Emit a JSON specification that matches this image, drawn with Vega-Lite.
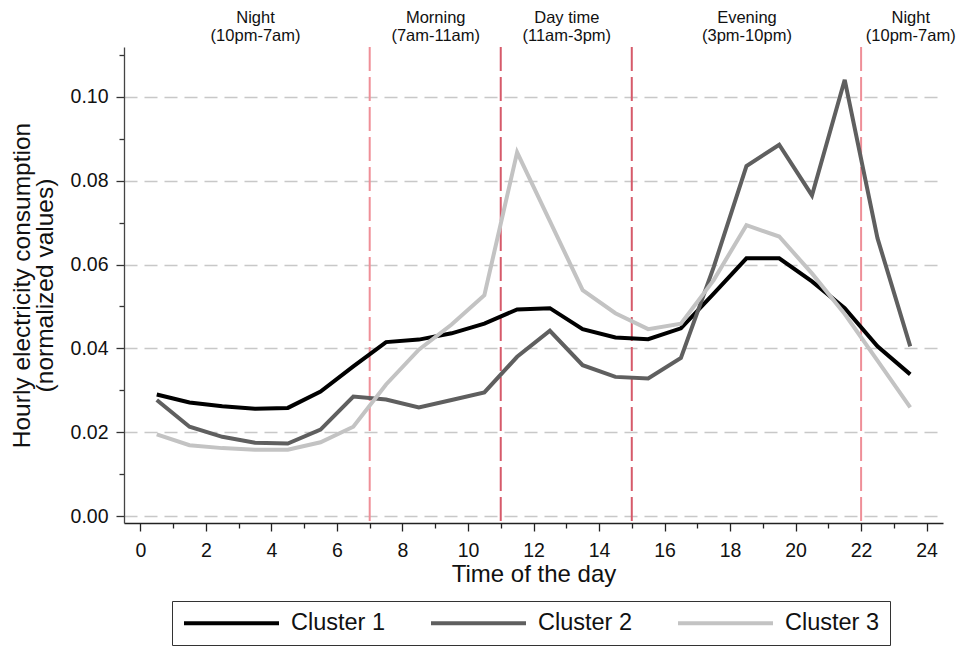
{
  "$schema": "https://vega.github.io/schema/vega-lite/v6.json",
  "autosize": {"type": "none"},
  "width": 819,
  "height": 476,
  "padding": {"left": 124, "top": 47, "right": 16, "bottom": 128},
  "background": "white",
  "config": {
    "view": {"stroke": null},
    "font": "Liberation Sans",
    "axis": {"labelFont": "Liberation Sans", "titleFont": "Liberation Sans", "labelColor": "#111", "titleColor": "#111", "titleFontWeight": "normal"},
    "legend": {"labelFont": "Liberation Sans"}
  },
  "datasets": {
    "consumption": [
      {"hour": 0.5, "Cluster 1": 0.0290, "Cluster 2": 0.0277, "Cluster 3": 0.0195},
      {"hour": 1.5, "Cluster 1": 0.0271, "Cluster 2": 0.0213, "Cluster 3": 0.0169},
      {"hour": 2.5, "Cluster 1": 0.0262, "Cluster 2": 0.0189, "Cluster 3": 0.0162},
      {"hour": 3.5, "Cluster 1": 0.0256, "Cluster 2": 0.0175, "Cluster 3": 0.0158},
      {"hour": 4.5, "Cluster 1": 0.0258, "Cluster 2": 0.0173, "Cluster 3": 0.0158},
      {"hour": 5.5, "Cluster 1": 0.0297, "Cluster 2": 0.0206, "Cluster 3": 0.0176},
      {"hour": 6.5, "Cluster 1": 0.0357, "Cluster 2": 0.0285, "Cluster 3": 0.0213},
      {"hour": 7.5, "Cluster 1": 0.0415, "Cluster 2": 0.0278, "Cluster 3": 0.0314},
      {"hour": 8.5, "Cluster 1": 0.0421, "Cluster 2": 0.0259, "Cluster 3": 0.0397},
      {"hour": 9.5, "Cluster 1": 0.0436, "Cluster 2": 0.0277, "Cluster 3": 0.0457},
      {"hour": 10.5, "Cluster 1": 0.0459, "Cluster 2": 0.0295, "Cluster 3": 0.0527},
      {"hour": 11.5, "Cluster 1": 0.0493, "Cluster 2": 0.0380, "Cluster 3": 0.0868},
      {"hour": 12.5, "Cluster 1": 0.0496, "Cluster 2": 0.0442, "Cluster 3": 0.0704},
      {"hour": 13.5, "Cluster 1": 0.0446, "Cluster 2": 0.0360, "Cluster 3": 0.0539},
      {"hour": 14.5, "Cluster 1": 0.0426, "Cluster 2": 0.0332, "Cluster 3": 0.0484},
      {"hour": 15.5, "Cluster 1": 0.0422, "Cluster 2": 0.0328, "Cluster 3": 0.0446},
      {"hour": 16.5, "Cluster 1": 0.0448, "Cluster 2": 0.0377, "Cluster 3": 0.0459},
      {"hour": 17.5, "Cluster 1": 0.0531, "Cluster 2": 0.0594, "Cluster 3": 0.0563},
      {"hour": 18.5, "Cluster 1": 0.0615, "Cluster 2": 0.0835, "Cluster 3": 0.0694},
      {"hour": 19.5, "Cluster 1": 0.0615, "Cluster 2": 0.0886, "Cluster 3": 0.0667},
      {"hour": 20.5, "Cluster 1": 0.0560, "Cluster 2": 0.0765, "Cluster 3": 0.0579},
      {"hour": 21.5, "Cluster 1": 0.0496, "Cluster 2": 0.1041, "Cluster 3": 0.0482},
      {"hour": 22.5, "Cluster 1": 0.0405, "Cluster 2": 0.0663, "Cluster 3": 0.0371},
      {"hour": 23.5, "Cluster 1": 0.0338, "Cluster 2": 0.0405, "Cluster 3": 0.0259}
    ],
    "boundaries": [
      {"hour": 7}, {"hour": 11}, {"hour": 15}, {"hour": 22}
    ]
  },
  "resolve": {"axis": {"x": "independent"}},
  "layer": [
    {
      "data": {"name": "boundaries"},
      "mark": {"type": "rule", "strokeWidth": 2, "strokeDash": [24, 6]},
      "encoding": {
        "x": {
          "field": "hour", "type": "quantitative",
          "scale": {"domain": [-0.5, 24.5], "nice": false, "zero": false},
          "axis": {
            "orient": "top", "title": null, "domain": false, "ticks": false, "grid": false,
            "values": [3.5, 9, 13, 18.5, 23.5],
            "labelExpr": "datum.value == 3.5 ? ['Night', '(10pm-7am)'] : datum.value == 9 ? ['Morning', '(7am-11am)'] : datum.value == 13 ? ['Day time', '(11am-3pm)'] : datum.value == 18.5 ? ['Evening', '(3pm-10pm)'] : ['Night', '(10pm-7am)']",
            "labelFontSize": 16.5, "labelLineHeight": 18, "labelPadding": 22, "labelFlush": false, "labelOverlap": false
          }
        },
        "color": {
          "condition": {"test": "datum.hour == 11 || datum.hour == 15", "value": "#d65a6a"},
          "value": "#ef8f98"
        }
      }
    },
    {
      "data": {"name": "consumption"},
      "transform": [{"fold": ["Cluster 1", "Cluster 2", "Cluster 3"], "as": ["cluster", "value"]}],
      "mark": {"type": "line", "strokeWidth": 4, "strokeJoin": "miter"},
      "encoding": {
        "x": {
          "field": "hour", "type": "quantitative",
          "scale": {"domain": [-0.5, 24.5], "nice": false, "zero": false},
          "axis": {
            "orient": "bottom",
            "title": "Time of the day", "titleFontSize": 24, "titlePadding": 3,
            "values": [0,1,2,3,4,5,6,7,8,9,10,11,12,13,14,15,16,17,18,19,20,21,22,23,24],
            "labelExpr": "datum.value % 2 == 0 ? datum.label : ''",
            "labelFontSize": 19.5, "labelPadding": 10, "labelFlush": false, "labelOverlap": false,
            "tickSize": {"condition": {"test": "datum.value % 2 == 0", "value": 8}, "value": 5},
            "tickColor": "#222", "tickWidth": 1.3,
            "domainColor": "#222", "domainWidth": 1.3, "grid": false
          }
        },
        "y": {
          "field": "value", "type": "quantitative",
          "scale": {"domain": [-0.00167, 0.11193], "nice": false, "zero": false},
          "axis": {
            "title": ["Hourly electricity consumption", "(normalized values)"],
            "titleFontSize": 24.5, "titlePadding": 13, "titleLineHeight": 23,
            "values": [0, 0.01, 0.02, 0.03, 0.04, 0.05, 0.06, 0.07, 0.08, 0.09, 0.10, 0.11],
            "format": ".2f",
            "labelExpr": "round(datum.value * 100) % 2 == 0 ? datum.label : ''",
            "labelFontSize": 19.5, "labelPadding": 8, "labelFlush": false, "labelOverlap": false,
            "tickSize": {"condition": {"test": "round(datum.value * 100) % 2 == 0", "value": 8}, "value": 5},
            "tickColor": "#333", "tickWidth": 1.3,
            "domainColor": "#444", "domainWidth": 1.3,
            "grid": true, "gridColor": "#c8c8c8", "gridWidth": 1.5, "gridDash": [13, 7],
            "gridOpacity": {"condition": {"test": "round(datum.value * 100) % 2 == 0 && datum.value < 0.105", "value": 1}, "value": 0}
          }
        },
        "color": {
          "field": "cluster", "type": "nominal",
          "scale": {"domain": ["Cluster 1", "Cluster 2", "Cluster 3"], "range": ["#000000", "#5f5f5f", "#c3c3c3"]},
          "legend": {
            "title": null, "orient": "none", "legendX": 48, "legendY": 554,
            "direction": "horizontal", "columns": 3,
            "symbolType": "M-1,0H8.5", "symbolSize": 400, "symbolStrokeWidth": 4,
            "labelFontSize": 23.5, "labelOffset": 85, "columnPadding": 37,
            "padding": 10, "strokeColor": "#333", "fillColor": "white", "labelColor": "#111"
          }
        }
      }
    }
  ]
}
